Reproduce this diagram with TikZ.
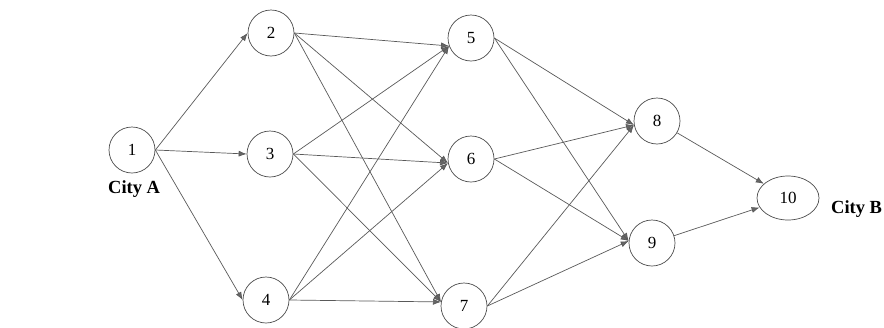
\documentclass[tikz,border=0pt]{standalone}
\usepackage{fontspec}
\setmainfont{Liberation Serif}
\usetikzlibrary{arrows.meta,shapes.geometric}
\begin{document}
\begin{tikzpicture}[x=1pt,y=-1pt,
  city/.style={draw=black!70,line width=0.7pt,circle,minimum size=46pt,inner sep=0pt,font=\fontsize{17}{17}\selectfont},
  wide/.style={draw=black!70,line width=0.7pt,ellipse,minimum width=62pt,minimum height=44pt,inner sep=0pt,font=\fontsize{17}{17}\selectfont},
  link/.style={draw=black!65,line width=0.7pt,-{Latex[length=8pt,width=6pt,fill=black!60]}},
  lbl/.style={font=\fontsize{18.5}{18.5}\selectfont\bfseries,inner sep=0pt,anchor=base west}]
\useasboundingbox (0,0) rectangle (884,327);
\node[city] (n1) at (132,150) {1};
\node[city] (n2) at (271,33) {2};
\node[city] (n3) at (270,154) {3};
\node[city] (n4) at (266,300) {4};
\node[city] (n5) at (471,38) {5};
\node[city] (n6) at (471,159) {6};
\node[city] (n7) at (464,306) {7};
\node[city] (n8) at (657,121) {8};
\node[city] (n9) at (652,243) {9};
\node[wide] (n10) at (788,198) {10};
\node[lbl] (ca) at (108,193) {City A};
\node[lbl] (cb) at (831,213) {City B};
\foreach \t in {n2,n3,n4} \draw[link] (n1.east) -- (\t.west);
\foreach \s in {n2,n3,n4} {
  \draw[link] (\s.east) -- (n5.200);
  \draw[link] (\s.east) -- (n6.190);
  \draw[link] (\s.east) -- (n7.170);
}
\foreach \s in {n5,n6,n7} {
  \draw[link] (\s.east) -- (n8.190);
  \draw[link] (\s.east) -- (n9.175);
}
\draw[link] (n8) -- (n10);
\draw[link] (n9) -- (n10);
\end{tikzpicture}
\end{document}
